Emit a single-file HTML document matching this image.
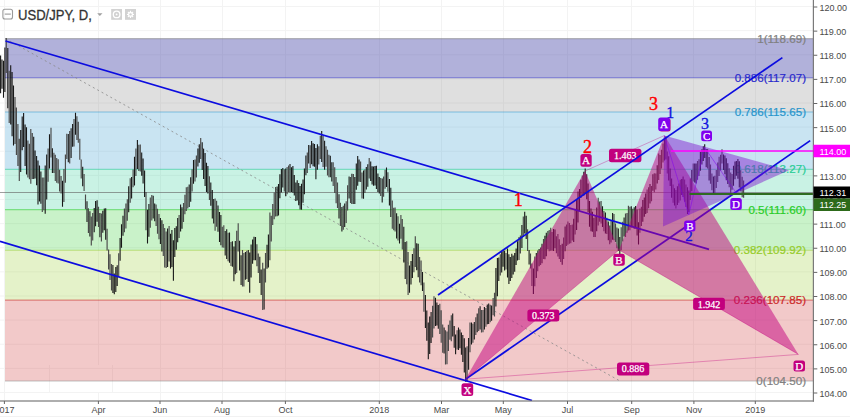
<!DOCTYPE html><html><head><meta charset="utf-8"><style>
html,body{margin:0;padding:0;background:#fff;width:850px;height:417px;overflow:hidden;}
svg{display:block;position:absolute;left:0;top:0;}
text{font-family:"Liberation Sans",sans-serif;}
.sr{font-family:"Liberation Serif",serif;}
</style></head><body>
<svg width="850" height="417" viewBox="0 0 850 417">
<defs><clipPath id="pane"><rect x="0" y="0" width="813" height="401"/></clipPath></defs>
<g stroke="#f3f3f3" stroke-width="1">
<line x1="0" y1="6.50" x2="813.5" y2="6.50"/>
<line x1="0" y1="30.62" x2="813.5" y2="30.62"/>
<line x1="0" y1="54.75" x2="813.5" y2="54.75"/>
<line x1="0" y1="78.88" x2="813.5" y2="78.88"/>
<line x1="0" y1="103.00" x2="813.5" y2="103.00"/>
<line x1="0" y1="127.12" x2="813.5" y2="127.12"/>
<line x1="0" y1="151.25" x2="813.5" y2="151.25"/>
<line x1="0" y1="175.38" x2="813.5" y2="175.38"/>
<line x1="0" y1="199.50" x2="813.5" y2="199.50"/>
<line x1="0" y1="223.62" x2="813.5" y2="223.62"/>
<line x1="0" y1="247.75" x2="813.5" y2="247.75"/>
<line x1="0" y1="271.88" x2="813.5" y2="271.88"/>
<line x1="0" y1="296.00" x2="813.5" y2="296.00"/>
<line x1="0" y1="320.12" x2="813.5" y2="320.12"/>
<line x1="0" y1="344.25" x2="813.5" y2="344.25"/>
<line x1="0" y1="368.38" x2="813.5" y2="368.38"/>
<line x1="0" y1="392.50" x2="813.5" y2="392.50"/>
<line x1="4.5" y1="0" x2="4.5" y2="401.0"/>
<line x1="98.5" y1="0" x2="98.5" y2="365"/>
<line x1="98.5" y1="393" x2="98.5" y2="401.0"/>
<line x1="160.5" y1="0" x2="160.5" y2="401.0"/>
<line x1="222.5" y1="0" x2="222.5" y2="401.0"/>
<line x1="285.5" y1="0" x2="285.5" y2="401.0"/>
<line x1="379.5" y1="0" x2="379.5" y2="401.0"/>
<line x1="441.5" y1="0" x2="441.5" y2="401.0"/>
<line x1="503.5" y1="0" x2="503.5" y2="401.0"/>
<line x1="567.5" y1="0" x2="567.5" y2="401.0"/>
<line x1="631.5" y1="0" x2="631.5" y2="401.0"/>
<line x1="693.5" y1="0" x2="693.5" y2="401.0"/>
<line x1="755.5" y1="0" x2="755.5" y2="401.0"/>
<line x1="49.5" y1="365" x2="49.5" y2="393"/>
<line x1="112.5" y1="365" x2="112.5" y2="393"/>
</g>
<g clip-path="url(#pane)">
<rect x="5.0" y="300.12" width="808.5" height="80.82" fill="#cc2828" fill-opacity="0.25"/>
<rect x="5.0" y="250.18" width="808.5" height="49.94" fill="#95cc28" fill-opacity="0.25"/>
<rect x="5.0" y="209.65" width="808.5" height="40.53" fill="#28cc28" fill-opacity="0.25"/>
<rect x="5.0" y="169.36" width="808.5" height="40.29" fill="#28cc95" fill-opacity="0.25"/>
<rect x="5.0" y="111.94" width="808.5" height="57.42" fill="#2895cc" fill-opacity="0.25"/>
<rect x="5.0" y="38.60" width="808.5" height="73.34" fill="#808080" fill-opacity="0.25"/>
<rect x="5.0" y="38.60" width="808.5" height="39.08" fill="#2828cc" fill-opacity="0.25"/>
<line x1="5.0" y1="380.94" x2="813.5" y2="380.94" stroke="#808080" stroke-opacity="0.5" stroke-width="1.1"/>
<line x1="5.0" y1="300.12" x2="813.5" y2="300.12" stroke="#cc2828" stroke-opacity="0.5" stroke-width="1.1"/>
<line x1="5.0" y1="250.18" x2="813.5" y2="250.18" stroke="#95cc28" stroke-opacity="0.5" stroke-width="1.1"/>
<line x1="5.0" y1="209.65" x2="813.5" y2="209.65" stroke="#28cc28" stroke-opacity="0.5" stroke-width="1.1"/>
<line x1="5.0" y1="169.36" x2="813.5" y2="169.36" stroke="#28cc95" stroke-opacity="0.5" stroke-width="1.1"/>
<line x1="5.0" y1="111.94" x2="813.5" y2="111.94" stroke="#2895cc" stroke-opacity="0.5" stroke-width="1.1"/>
<line x1="5.0" y1="38.60" x2="813.5" y2="38.60" stroke="#808080" stroke-opacity="0.5" stroke-width="1.1"/>
<line x1="5.0" y1="77.69" x2="813.5" y2="77.69" stroke="#2828cc" stroke-opacity="0.5" stroke-width="1.1"/>
<line x1="5.5" y1="38.6" x2="620" y2="381" stroke="#888" stroke-width="1" stroke-dasharray="2,3" stroke-opacity="0.8"/>
<text x="806" y="384.9" font-size="11.6" text-anchor="end" fill="#808080" stroke="#808080" stroke-width="0.2">0(104.50)</text>
<text x="806" y="304.1" font-size="11.6" text-anchor="end" fill="#cc2828" stroke="#cc2828" stroke-width="0.2">0.236(107.85)</text>
<text x="806" y="254.2" font-size="11.6" text-anchor="end" fill="#95cc28" stroke="#95cc28" stroke-width="0.2">0.382(109.92)</text>
<text x="806" y="213.7" font-size="11.6" text-anchor="end" fill="#28cc28" stroke="#28cc28" stroke-width="0.2">0.5(111.60)</text>
<text x="806" y="173.4" font-size="11.6" text-anchor="end" fill="#28cc95" stroke="#28cc95" stroke-width="0.2">0.618(113.27)</text>
<text x="806" y="115.9" font-size="11.6" text-anchor="end" fill="#2895cc" stroke="#2895cc" stroke-width="0.2">0.786(115.65)</text>
<text x="806" y="42.6" font-size="11.6" text-anchor="end" fill="#808080" stroke="#808080" stroke-width="0.2">1(118.69)</text>
<text x="806" y="81.7" font-size="11.6" text-anchor="end" fill="#2828cc" stroke="#2828cc" stroke-width="0.2">0.886(117.07)</text>
<line x1="0" y1="192.5" x2="813.5" y2="192.5" stroke="#666" stroke-width="0.8" stroke-opacity="0.8"/>
<path d="M-0.9 55.4V94.6M6.3 38.1V73.1M9.2 70.8V122.9M15.0 96.9V144.0M16.4 107.4V155.0M17.9 123.9V166.0M19.3 138.7V180.9M27.9 140.4V177.6M29.4 143.7V179.2M30.8 128.9V183.8M32.3 132.9V179.0M42.3 177.4V212.1M43.8 177.6V210.2M48.1 148.4V181.8M51.0 127.8V157.4M53.9 152.8V173.1M55.3 154.7V181.1M56.7 158.0V182.7M58.2 159.2V183.4M59.6 169.7V191.5M61.1 175.9V193.5M63.9 168.9V202.0M65.4 154.5V182.7M66.8 133.8V158.9M69.7 131.1V163.6M74.0 118.9V146.4M76.9 116.2V140.1M78.3 121.7V142.8M79.8 138.8V159.8M81.2 159.4V178.5M84.1 173.9V190.9M85.5 194.6V209.3M88.4 208.2V233.1M91.3 216.6V245.5M92.7 213.1V240.6M98.5 206.7V227.1M101.4 213.5V241.5M107.1 228.7V250.6M108.6 249.4V269.6M110.0 254.2V280.1M111.5 264.0V290.4M118.7 253.2V276.9M124.4 208.4V232.2M125.9 203.6V228.4M127.3 199.2V220.7M130.2 178.3V202.7M133.1 169.6V187.3M135.9 148.6V175.9M138.8 144.8V171.1M140.3 144.5V171.4M146.0 192.0V230.2M150.3 197.6V227.7M151.8 195.0V220.6M156.1 204.4V225.9M157.5 208.7V233.8M159.0 213.9V239.2M163.3 224.0V256.1M164.7 228.1V267.4M166.2 231.4V268.1M169.1 226.1V261.6M179.1 215.1V238.1M183.5 202.9V222.0M184.9 194.8V214.2M186.3 187.3V211.0M187.8 186.8V208.5M192.1 169.2V191.6M195.0 159.4V181.5M196.4 155.6V177.6M200.7 138.1V159.1M209.4 176.3V200.0M215.1 198.6V230.8M216.6 200.7V226.8M222.3 226.8V247.4M223.8 225.3V247.8M228.1 232.7V261.3M231.0 242.1V266.0M236.7 230.7V272.9M238.2 223.3V251.4M242.5 250.0V286.4M243.9 253.0V286.6M246.8 250.7V279.1M256.9 244.2V266.3M258.3 253.4V273.0M262.7 262.8V310.1M265.5 252.9V282.4M269.9 212.4V260.2M271.3 215.7V241.6M272.7 203.9V225.1M274.2 192.4V219.3M275.6 186.9V216.5M284.3 169.3V191.4M287.1 166.9V194.3M288.6 165.4V192.0M307.3 152.5V173.0M310.2 145.3V168.1M318.8 146.2V164.5M320.3 135.7V158.9M323.1 135.7V167.0M326.0 146.2V166.8M327.5 149.8V175.4M328.9 154.8V177.3M333.2 162.2V185.9M334.7 167.2V193.0M336.1 177.1V203.3M337.5 182.6V208.1M340.4 202.8V226.0M343.3 205.8V229.7M346.2 201.2V223.0M347.6 185.2V210.4M350.5 177.1V203.1M353.4 174.0V203.9M360.6 161.5V182.0M362.0 172.5V198.5M364.9 169.6V193.1M369.2 157.9V178.4M380.7 178.0V196.1M383.6 176.5V196.7M385.1 169.7V188.7M387.9 172.2V191.8M392.3 200.6V228.7M393.7 207.8V230.3M395.1 207.4V231.6M398.0 216.2V240.4M400.9 215.0V238.7M402.3 219.1V249.6M406.7 241.2V284.2M408.1 252.1V294.9M413.9 248.2V272.2M415.3 236.2V266.9M419.6 256.9V282.4M421.1 260.5V285.3M423.9 282.4V311.7M432.6 305.7V337.4M434.0 296.3V328.4M439.8 303.8V333.9M441.2 310.2V342.8M442.7 324.4V352.7M445.5 330.2V364.6M447.0 331.5V364.3M448.4 324.8V350.9M449.9 320.6V339.8M451.3 315.2V341.2M457.1 330.3V349.4M467.1 346.3V381.8M470.0 322.6V352.3M472.9 323.7V342.7M475.8 317.2V335.1M478.7 308.3V331.1M481.5 309.9V332.4M483.0 310.1V332.3M485.9 308.0V326.8M490.2 304.7V322.3M493.1 298.0V315.2M494.5 292.7V316.4M500.3 254.2V275.4M506.0 253.1V269.4M519.0 236.9V259.9M520.4 235.6V253.4M523.3 216.5V237.0M527.6 229.2V251.1M530.5 253.4V268.5M531.9 263.4V286.0M534.8 256.4V286.3M537.7 250.5V271.2M540.6 247.5V264.9M543.5 238.9V259.1M547.8 231.1V249.3M549.2 230.1V251.3M550.7 227.8V250.8M552.1 232.0V250.6M556.4 236.2V253.2M557.9 233.9V256.4M559.3 239.2V258.9M560.7 244.9V261.9M563.6 237.6V259.0M566.5 224.6V245.9M567.9 221.4V244.7M569.4 223.1V243.7M570.8 225.1V243.3M572.3 224.6V240.4M575.1 208.7V234.6M582.3 175.6V195.3M595.3 215.7V237.1M598.2 197.7V225.5M599.6 201.6V221.8M601.1 201.0V223.6M603.9 211.1V231.3M606.8 217.8V233.9M609.7 225.6V244.3M611.1 220.4V242.4M614.0 214.1V240.3M615.5 223.4V242.1M616.9 227.6V248.2M621.2 227.3V250.2M622.7 221.7V241.5M625.5 213.5V236.9M627.0 212.9V232.7M628.4 205.7V230.5M629.9 206.7V230.2M632.7 208.7V227.5M639.9 208.4V232.7M641.4 206.8V225.9M647.1 189.4V213.0M648.6 187.3V208.3M651.5 185.9V201.2M654.3 173.2V192.3M655.8 173.6V189.5M658.7 153.5V180.0M660.1 155.1V173.9M661.5 149.7V168.5M663.0 143.6V162.5M667.3 151.5V173.6M673.1 184.5V202.7M675.9 190.1V208.5M678.8 183.4V202.7M680.3 179.7V200.6M684.6 179.5V201.7M686.0 184.4V207.1M690.3 178.4V199.9M693.2 163.6V181.4M697.5 161.0V179.7M699.0 159.2V176.1M707.6 148.9V168.4M710.5 164.5V183.8M711.9 173.4V190.2M714.8 175.7V193.2M716.3 170.0V188.0M717.7 162.6V182.0M719.1 156.8V175.9M720.6 154.8V170.6M722.0 149.3V163.4M729.2 168.2V187.2M730.7 172.4V192.9M732.1 174.0V189.7M740.7 170.3V191.2M742.2 176.7V197.3M743.6 180.6V197.8" stroke="#4a4a4a" stroke-width="1.15" fill="none"/>
<path d="M0.6 55.6V93.2M2.0 59.4V88.7M3.5 60.8V97.8M4.9 47.4V91.9M7.8 48.0V108.3M10.7 65.3V124.4M12.1 72.1V136.2M13.5 85.4V145.4M20.7 130.0V172.1M22.2 116.4V150.2M23.6 112.9V146.9M25.1 124.4V166.1M26.5 127.3V174.6M33.7 136.7V179.0M35.1 150.4V178.5M36.6 156.1V185.3M38.0 160.4V204.4M39.5 165.6V201.5M40.9 171.5V203.7M45.2 165.5V213.8M46.7 154.5V199.5M49.5 134.2V168.5M52.4 148.2V173.0M62.5 180.7V206.7M68.3 134.1V162.2M71.1 128.3V158.1M72.6 124.0V146.7M75.5 112.8V134.7M82.7 166.7V186.2M87.0 201.2V222.0M89.9 211.3V236.5M94.2 208.1V232.3M95.6 200.9V226.2M97.1 200.2V221.8M99.9 212.9V237.3M102.8 210.7V232.7M104.3 208.4V230.2M105.7 208.2V239.7M112.9 264.9V293.0M114.3 273.6V294.2M115.8 267.1V292.1M117.2 265.2V285.9M120.1 238.1V260.7M121.5 224.2V247.8M123.0 215.8V235.7M128.7 186.2V212.2M131.6 176.9V198.5M134.5 156.7V185.6M137.4 140.0V168.9M141.7 152.5V175.8M143.1 158.4V183.5M144.6 170.5V196.9M147.5 209.8V243.5M148.9 203.9V236.7M153.2 195.8V218.6M154.7 203.4V221.2M160.4 218.1V243.9M161.9 220.2V251.6M167.6 228.6V267.1M170.5 233.7V268.6M171.9 230.0V267.1M173.4 240.2V280.7M174.8 228.0V257.1M176.3 226.3V249.8M177.7 218.1V242.2M180.6 204.4V231.5M182.0 207.2V228.8M189.2 184.6V207.0M190.7 177.2V201.7M193.5 160.1V183.7M197.9 148.5V166.4M199.3 144.2V162.7M202.2 142.3V170.0M203.6 148.7V179.1M205.1 152.9V186.0M206.5 162.8V191.9M207.9 166.0V193.6M210.8 182.5V205.7M212.3 189.9V218.5M213.7 198.9V223.5M218.0 205.4V231.7M219.5 212.1V241.9M220.9 215.1V245.2M225.2 230.9V255.6M226.7 229.2V258.9M229.5 232.4V262.7M232.4 241.3V266.7M233.9 246.4V281.2M235.3 241.0V274.2M239.6 240.7V270.6M241.1 255.3V285.1M245.4 251.9V279.8M248.3 250.1V282.1M249.7 252.6V292.8M251.1 244.5V277.6M252.6 239.4V263.8M254.0 236.7V260.3M255.5 236.9V260.2M259.8 256.7V283.1M261.2 269.6V295.0M264.1 268.5V309.6M267.0 244.7V268.8M268.4 234.5V267.5M277.1 186.6V216.3M278.5 183.9V215.5M279.9 174.2V198.3M281.4 169.0V192.3M282.8 167.9V187.4M285.7 168.5V196.3M290.0 163.9V192.2M291.5 167.3V191.9M292.9 166.0V192.8M294.3 175.0V195.6M295.8 182.6V201.1M297.2 180.3V200.5M298.7 183.1V205.2M300.1 185.9V209.6M301.5 183.8V209.7M303.0 179.5V202.7M304.4 168.4V194.3M305.9 155.6V175.3M308.7 145.1V163.5M311.6 140.9V164.2M313.1 143.3V166.3M314.5 143.9V166.8M315.9 148.1V179.3M317.4 144.3V169.8M321.7 131.1V162.0M324.6 140.8V169.7M330.3 155.8V177.2M331.8 162.3V181.5M339.0 194.2V218.6M341.9 207.0V231.6M344.7 203.4V226.9M349.1 176.5V198.5M351.9 173.8V203.9M354.8 177.1V203.9M356.3 163.6V189.8M357.7 156.1V185.7M359.1 159.5V181.7M363.5 170.5V198.8M366.3 166.9V189.4M367.8 164.2V186.7M370.7 161.6V180.9M372.1 166.3V184.5M373.5 166.5V185.7M375.0 166.0V185.6M376.4 165.8V189.1M377.9 173.6V191.9M379.3 176.9V193.6M382.2 178.6V202.4M386.5 167.5V186.9M389.4 179.0V205.4M390.8 187.7V217.0M396.6 213.2V238.6M399.5 223.8V243.4M403.8 226.7V262.5M405.2 241.9V279.0M409.5 265.4V292.8M411.0 261.1V284.4M412.4 254.0V278.1M416.7 243.3V270.2M418.2 243.8V277.3M422.5 272.0V291.1M425.4 294.9V327.9M426.8 310.5V340.7M428.3 322.5V359.2M429.7 316.4V353.9M431.1 312.0V342.9M435.5 297.7V326.0M436.9 302.5V325.4M438.3 305.0V328.7M444.1 327.5V353.4M452.7 313.6V336.4M454.2 326.1V347.8M455.6 334.5V354.2M458.5 327.6V350.0M459.9 329.6V348.3M461.4 332.4V354.8M462.8 335.1V362.0M464.3 338.3V372.6M465.7 347.6V381.7M468.6 337.9V369.8M471.5 322.6V344.4M474.3 322.0V339.4M477.2 313.4V332.3M480.1 306.3V329.6M484.4 306.9V329.4M487.3 304.6V324.2M488.7 303.5V323.9M491.6 305.6V320.7M495.9 267.9V306.4M497.4 258.1V296.2M498.8 257.4V280.9M501.7 252.0V272.6M503.1 250.2V266.7M504.6 250.8V270.5M507.5 248.6V277.5M508.9 254.3V284.0M510.3 257.1V281.0M511.8 253.8V277.9M513.2 255.4V274.6M514.7 252.9V271.7M516.1 248.5V265.1M517.5 241.2V260.4M521.9 224.9V248.1M524.7 211.8V233.6M526.2 215.8V238.9M529.1 250.0V264.4M533.4 268.6V294.1M536.3 253.1V278.0M539.1 249.0V266.2M542.0 243.8V263.3M544.9 235.8V259.3M546.3 232.8V256.2M553.5 229.0V250.9M555.0 229.5V248.3M562.2 243.7V264.7M565.1 226.5V251.2M573.7 218.7V242.1M576.6 200.0V229.9M578.0 191.4V222.6M579.5 189.1V211.0M580.9 179.7V197.9M583.8 171.8V195.7M585.2 168.4V192.9M586.7 174.2V199.3M588.1 183.6V212.2M589.5 201.0V226.8M591.0 208.4V231.2M592.4 211.8V231.7M593.9 217.7V236.9M596.7 207.5V231.3M602.5 206.3V227.0M605.4 212.4V233.5M608.3 221.4V240.2M612.6 213.1V239.7M618.3 228.5V250.9M619.8 237.1V255.1M624.1 217.4V236.5M631.3 206.3V227.6M634.2 207.3V228.8M635.6 206.1V228.5M637.1 209.6V235.4M638.5 222.3V244.6M642.8 200.1V221.8M644.3 197.4V216.8M645.7 193.5V214.1M650.0 184.0V203.6M652.9 174.3V190.7M657.2 165.2V183.4M664.4 140.1V160.4M665.9 136.4V159.6M668.7 156.2V180.4M670.2 168.5V186.1M671.6 178.6V197.7M674.5 188.2V205.6M677.4 186.3V205.1M681.7 178.9V195.0M683.1 176.6V196.9M687.5 187.2V214.1M688.9 190.5V212.1M691.8 170.0V191.3M694.7 163.5V182.6M696.1 163.5V183.4M700.4 151.8V170.8M701.9 149.2V164.6M703.3 146.3V161.1M704.7 144.3V158.1M706.2 149.0V167.3M709.1 156.9V180.4M713.4 176.6V193.7M723.5 154.5V169.9M724.9 155.4V174.2M726.3 158.3V180.3M727.8 163.2V183.9M733.5 165.7V185.7M735.0 161.4V179.2M736.4 161.1V175.8M737.9 158.9V178.7M739.3 161.3V187.5" stroke="#181818" stroke-width="1.1" fill="none"/>
<line x1="5.5" y1="41" x2="709" y2="249.4" stroke="#0c0ce0" stroke-width="1.75"/>
<line x1="0" y1="241.4" x2="532" y2="400.5" stroke="#0c0ce0" stroke-width="1.75"/>
<line x1="465.4" y1="379.2" x2="810.2" y2="140.6" stroke="#0c0ce0" stroke-width="1.75"/>
<polygon points="465.4,379.2 585,171 619,250" fill="#c2007e" fill-opacity="0.5"/>
<polygon points="619,250 664.5,135.5 798.4,354.4" fill="#c2007e" fill-opacity="0.5"/>
<line x1="465.4" y1="379.2" x2="619" y2="250" stroke="#c2007e" stroke-opacity="0.35" stroke-width="1"/>
<line x1="585" y1="171" x2="664.5" y2="135.5" stroke="#c2007e" stroke-opacity="0.35" stroke-width="1"/>
<line x1="619" y1="250" x2="798.4" y2="354.4" stroke="#c2007e" stroke-opacity="0.35" stroke-width="1"/>
<line x1="465.4" y1="379.2" x2="798.4" y2="354.4" stroke="#c2007e" stroke-opacity="0.35" stroke-width="1"/>
<polygon points="664.2,135.5 663,226.5 789,170.3" fill="#7c14cc" fill-opacity="0.46"/>
<polyline points="664.2,135.5 688.8,214.7 704.5,147.5 737,194" fill="none" stroke="#8000ee" stroke-opacity="0.5" stroke-width="1"/>
<line x1="670.8" y1="151" x2="813.5" y2="151" stroke="#ff00ff" stroke-width="1.7"/>
<line x1="689.6" y1="194" x2="813.5" y2="194" stroke="#2f6b20" stroke-width="1.8"/>
</g>
<rect x="461.5" y="383.3" width="11.7" height="12.6" rx="2.5" fill="#c2007e"/>
<text class="sr" x="467.4" y="393.5" font-size="11" text-anchor="middle" fill="#fff" stroke="#fff" stroke-width="0.25">X</text>
<rect x="580.4" y="154" width="11.3" height="12.7" rx="2.5" fill="#c2007e"/>
<text class="sr" x="586.0" y="164.2" font-size="11" text-anchor="middle" fill="#fff" stroke="#fff" stroke-width="0.25">A</text>
<rect x="613.3" y="253.8" width="11.5" height="11.9" rx="2.5" fill="#c2007e"/>
<text class="sr" x="619.0" y="263.6" font-size="11" text-anchor="middle" fill="#fff" stroke="#fff" stroke-width="0.25">B</text>
<rect x="793.5" y="360.6" width="11.5" height="11.0" rx="2.5" fill="#c2007e"/>
<text class="sr" x="799.2" y="370.0" font-size="11" text-anchor="middle" fill="#fff" stroke="#fff" stroke-width="0.25">D</text>
<rect x="527.4" y="309.5" width="31.9" height="12.0" rx="2.5" fill="#c2007e"/>
<text class="sr" x="543.3" y="319.0" font-size="10" text-anchor="middle" fill="#fff" stroke="#fff" stroke-width="0.25">0.373</text>
<rect x="609" y="148.8" width="32.4" height="13.5" rx="2.5" fill="#c2007e"/>
<text class="sr" x="625.2" y="159.1" font-size="10" text-anchor="middle" fill="#fff" stroke="#fff" stroke-width="0.25">1.463</text>
<rect x="693.1" y="297.8" width="31.8" height="12.3" rx="2.5" fill="#c2007e"/>
<text class="sr" x="709.0" y="307.5" font-size="10" text-anchor="middle" fill="#fff" stroke="#fff" stroke-width="0.25">1.942</text>
<rect x="617" y="362.4" width="32.3" height="13.0" rx="2.5" fill="#c2007e"/>
<text class="sr" x="633.1" y="372.4" font-size="10" text-anchor="middle" fill="#fff" stroke="#fff" stroke-width="0.25">0.886</text>
<line x1="438" y1="295" x2="782.4" y2="57.6" stroke="#0c0ce0" stroke-width="1.75"/>
<text class="sr" x="518.3" y="205.5" font-size="18" text-anchor="middle" fill="#ff0000" stroke="#ff0000" stroke-width="0.4">1</text>
<text class="sr" x="587.6" y="152.8" font-size="18" text-anchor="middle" fill="#ff0000" stroke="#ff0000" stroke-width="0.4">2</text>
<text class="sr" x="653.5" y="110" font-size="18" text-anchor="middle" fill="#ff0000" stroke="#ff0000" stroke-width="0.4">3</text>
<text class="sr" x="689" y="241" font-size="15" text-anchor="middle" fill="#1212e0" stroke="#1212e0" stroke-width="0.3">2</text>
<text class="sr" x="670.3" y="117.6" font-size="16" text-anchor="middle" fill="#1212e0" stroke="#1212e0" stroke-width="0.3">1</text>
<text class="sr" x="705" y="129.2" font-size="16" text-anchor="middle" fill="#1212e0" stroke="#1212e0" stroke-width="0.3">3</text>
<rect x="659" y="118.3" width="11.6" height="13.3" rx="2.5" fill="#c2007e"/>
<text class="sr" x="664.8" y="128.8" font-size="11" text-anchor="middle" fill="#fff" stroke="#fff" stroke-width="0.25">C</text>
<rect x="658.2" y="117.5" width="11.7" height="13.5" rx="2.5" fill="#8000ee"/>
<text class="sr" x="664.0" y="128.1" font-size="11" text-anchor="middle" fill="#fff" stroke="#fff" stroke-width="0.25">A</text>
<rect x="701.2" y="130.4" width="10.8" height="10.8" rx="2.5" fill="#8000ee"/>
<text class="sr" x="706.6" y="139.7" font-size="11" text-anchor="middle" fill="#fff" stroke="#fff" stroke-width="0.25">C</text>
<rect x="684.1" y="220.6" width="11.3" height="11.0" rx="2.5" fill="#8000ee"/>
<text class="sr" x="689.8" y="229.9" font-size="11" text-anchor="middle" fill="#fff" stroke="#fff" stroke-width="0.25">B</text>
<rect x="730.3" y="198.1" width="11.5" height="11.9" rx="2.5" fill="#8000ee"/>
<text class="sr" x="736.0" y="207.9" font-size="11" text-anchor="middle" fill="#fff" stroke="#fff" stroke-width="0.25">D</text>
<rect x="812.8" y="0" width="1.2" height="401.6" fill="#7a7a7a"/>
<rect x="0" y="400.4" width="814" height="1.2" fill="#7a7a7a"/>
<g fill="#4a4a4a" font-size="9">
<rect x="813.5" y="6.50" width="3.8" height="1" fill="#666"/>
<text x="819.5" y="10.9">120.00</text>
<rect x="813.5" y="30.62" width="3.8" height="1" fill="#666"/>
<text x="819.5" y="35.0">119.00</text>
<rect x="813.5" y="54.75" width="3.8" height="1" fill="#666"/>
<text x="819.5" y="59.1">118.00</text>
<rect x="813.5" y="78.88" width="3.8" height="1" fill="#666"/>
<text x="819.5" y="83.3">117.00</text>
<rect x="813.5" y="103.00" width="3.8" height="1" fill="#666"/>
<text x="819.5" y="107.4">116.00</text>
<rect x="813.5" y="127.12" width="3.8" height="1" fill="#666"/>
<text x="819.5" y="131.5">115.00</text>
<rect x="813.5" y="151.25" width="3.8" height="1" fill="#666"/>
<text x="819.5" y="155.7">114.00</text>
<rect x="813.5" y="175.38" width="3.8" height="1" fill="#666"/>
<text x="819.5" y="179.8">113.00</text>
<rect x="813.5" y="199.50" width="3.8" height="1" fill="#666"/>
<text x="819.5" y="203.9">112.00</text>
<rect x="813.5" y="223.62" width="3.8" height="1" fill="#666"/>
<text x="819.5" y="228.0">111.00</text>
<rect x="813.5" y="247.75" width="3.8" height="1" fill="#666"/>
<text x="819.5" y="252.2">110.00</text>
<rect x="813.5" y="271.88" width="3.8" height="1" fill="#666"/>
<text x="819.5" y="276.3">109.00</text>
<rect x="813.5" y="296.00" width="3.8" height="1" fill="#666"/>
<text x="819.5" y="300.4">108.00</text>
<rect x="813.5" y="320.12" width="3.8" height="1" fill="#666"/>
<text x="819.5" y="324.5">107.00</text>
<rect x="813.5" y="344.25" width="3.8" height="1" fill="#666"/>
<text x="819.5" y="348.6">106.00</text>
<rect x="813.5" y="368.38" width="3.8" height="1" fill="#666"/>
<text x="819.5" y="372.8">105.00</text>
<rect x="813.5" y="392.50" width="3.8" height="1" fill="#666"/>
<text x="819.5" y="396.9">104.00</text>
</g>
<rect x="813.5" y="144.75" width="37" height="12.5" fill="#ff00ff"/>
<text x="819.5" y="154.5" font-size="9" fill="#fff">114.00</text>
<rect x="813.5" y="186.5" width="37" height="12.0" fill="#000000"/>
<text x="819.5" y="196.0" font-size="9" fill="#fff">112.31</text>
<rect x="813.5" y="198.5" width="37" height="12.5" fill="#2d6a1a"/>
<text x="819.5" y="208.2" font-size="9" fill="#fff">112.25</text>
<g fill="#4a4a4a" font-size="9" text-anchor="middle">
<rect x="3.90" y="401" width="1" height="3" fill="#666"/>
<text x="4.4" y="413">2017</text>
<rect x="97.90" y="401" width="1" height="3" fill="#666"/>
<text x="98.4" y="413">Apr</text>
<rect x="159.50" y="401" width="1" height="3" fill="#666"/>
<text x="160" y="413">Jun</text>
<rect x="221.50" y="401" width="1" height="3" fill="#666"/>
<text x="222" y="413">Aug</text>
<rect x="284.90" y="401" width="1" height="3" fill="#666"/>
<text x="285.4" y="413">Oct</text>
<rect x="378.80" y="401" width="1" height="3" fill="#666"/>
<text x="379.3" y="413">2018</text>
<rect x="441.00" y="401" width="1" height="3" fill="#666"/>
<text x="441.5" y="413">Mar</text>
<rect x="502.80" y="401" width="1" height="3" fill="#666"/>
<text x="503.3" y="413">May</text>
<rect x="567.00" y="401" width="1" height="3" fill="#666"/>
<text x="567.5" y="413">Jul</text>
<rect x="631.20" y="401" width="1" height="3" fill="#666"/>
<text x="631.7" y="413">Sep</text>
<rect x="693.40" y="401" width="1" height="3" fill="#666"/>
<text x="693.9" y="413">Nov</text>
<rect x="754.80" y="401" width="1" height="3" fill="#666"/>
<text x="755.3" y="413">2019</text>
</g>
<rect x="2.9" y="9.2" width="9.6" height="9.8" rx="2" fill="none" stroke="#9a9a9a" stroke-width="1.1"/>
<line x1="4.8" y1="14.1" x2="10.8" y2="14.1" stroke="#9a9a9a" stroke-width="1.1"/>
<text x="18" y="20.3" font-size="14" fill="#333" stroke="#333" stroke-width="0.3" textLength="73.8" lengthAdjust="spacingAndGlyphs">USD/JPY, D,</text>
<polygon points="97.2,13.3 102.5,13.3 99.85,16" fill="#a0a0a0"/>
<rect x="111.2" y="9" width="10.8" height="10.8" fill="#d2d2d2"/>
<circle cx="116.6" cy="14.4" r="3.3" fill="none" stroke="#fff" stroke-width="1.3"/>
<circle cx="116.6" cy="14.4" r="0.9" fill="#fff"/>
<rect x="125" y="9" width="11" height="10.8" fill="#d2d2d2"/>
<path d="M134.03,13.70L134.03,15.10L133.05,14.91L132.66,15.84L133.49,16.40L132.50,17.39L131.94,16.56L131.01,16.95L131.20,17.93L129.80,17.93L129.99,16.95L129.06,16.56L128.50,17.39L127.51,16.40L128.34,15.84L127.95,14.91L126.97,15.10L126.97,13.70L127.95,13.89L128.34,12.96L127.51,12.40L128.50,11.41L129.06,12.24L129.99,11.85L129.80,10.87L131.20,10.87L131.01,11.85L131.94,12.24L132.50,11.41L133.49,12.40L132.66,12.96L133.05,13.89Z" fill="#fff"/>
<circle cx="130.5" cy="14.4" r="1.2" fill="#d2d2d2"/>
<rect x="0" y="416" width="850" height="1" fill="#f2f2f2"/>
</svg></body></html>
